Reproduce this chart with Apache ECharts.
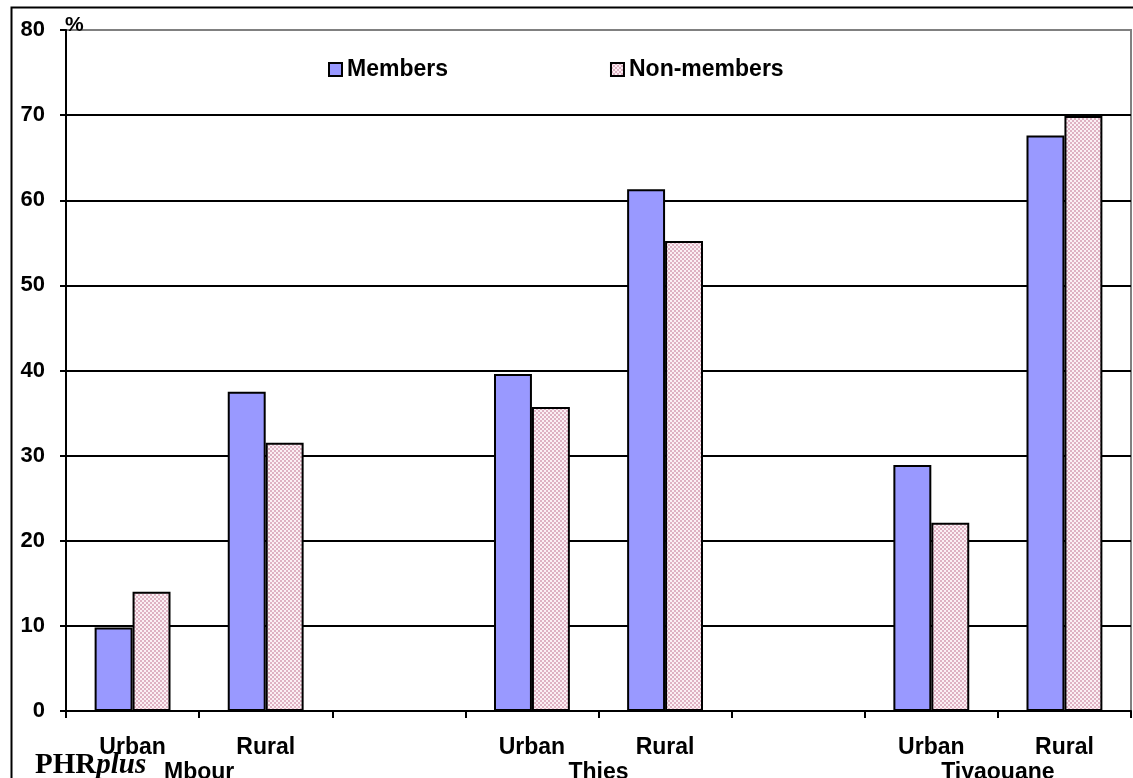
<!DOCTYPE html>
<html>
<head>
<meta charset="utf-8">
<script src="https://cdn.jsdelivr.net/npm/echarts@6/dist/echarts.min.js"></script>
<style>html,body{margin:0;padding:0;background:#fff;}#c{width:1133px;height:778px;}</style>
</head>
<body>
<div id="c"></div>
<script>
const categories = ['Urban', 'Rural', '', 'Urban', 'Rural', '', 'Urban', 'Rural'];
const groupLabels = ['', 'Mbour', '', '', 'Thies', '', '', 'Tiyaouane', ''];
const members = [9.8, 37.5, '-', 39.6, 61.3, '-', 28.9, 67.6];
const nonMembers = [14.0, 31.5, '-', 35.7, 55.2, '-', 22.1, 69.9];
const yTicks = { min: 0, max: 80, interval: 10 };

function makePattern() {
  const c = document.createElement('canvas');
  c.width = 4; c.height = 4;
  const g = c.getContext('2d');
  g.fillStyle = '#fbf0f4'; g.fillRect(0, 0, 4, 4);
  g.fillStyle = '#deb2c3';
  g.fillRect(0, 0, 2, 2); g.fillRect(2, 2, 2, 2);
  return c;
}

const chart = echarts.init(document.getElementById('c'), null, { renderer: 'canvas' });
const ff = 'Liberation Sans, Arial, sans-serif';
const boldX = { fontFamily: ff, fontWeight: 'bold', fontSize: 23, color: '#000' };
const boldY = { fontFamily: ff, fontWeight: 'bold', fontSize: 22, color: '#000' };

chart.setOption({
  animation: false,
  backgroundColor: '#fff',
  grid: { left: 66, top: 30, right: 2, bottom: 67, containLabel: false, outerBoundsMode: 'none',
    show: true, borderColor: '#808080', borderWidth: 2, backgroundColor: 'transparent' },
  legend: {
    left: 323, top: 53, itemWidth: 13, itemHeight: 13, itemGap: 162, icon: 'rect',
    textStyle: Object.assign({}, boldX),
    data: ['Members', 'Non-members']
  },
  xAxis: [{
    type: 'category', data: categories, position: 'bottom',
    axisLine: { lineStyle: { color: '#000', width: 2 } },
    axisTick: { show: true, interval: 0, length: 7, lineStyle: { color: '#000', width: 2 } },
    axisLabel: Object.assign({ interval: 0, margin: 25 }, boldX),
    splitLine: { show: false }
  }, {
    type: 'category', data: groupLabels, position: 'bottom', boundaryGap: false,
    axisLine: { show: false }, axisTick: { show: false },
    axisLabel: Object.assign({ interval: 0, margin: 50 }, boldX),
    splitLine: { show: false }
  }],
  yAxis: {
    type: 'value', min: yTicks.min, max: yTicks.max, interval: yTicks.interval,
    axisLine: { show: true, lineStyle: { color: '#000', width: 2 } },
    axisTick: { show: true, length: 6, lineStyle: { color: '#000', width: 2 } },
    axisLabel: Object.assign({ margin: 21 }, boldY),
    splitLine: { show: true, lineStyle: { color: ['#000', '#000', '#000', '#000', '#000', '#000', '#000', '#000', '#808080'], width: 2 } }
  },
  series: [{
    name: 'Members', type: 'bar', data: members, barGap: '0%', barCategoryGap: '43%',
    itemStyle: { color: '#9999ff', borderColor: '#000', borderWidth: 2 }
  }, {
    name: 'Non-members', type: 'bar', data: nonMembers, barGap: '0%', barCategoryGap: '43%',
    itemStyle: { color: { image: makePattern(), repeat: 'repeat' }, borderColor: '#000', borderWidth: 2 }
  }],
  graphic: [
    { type: 'rect', left: 9, top: 5, shape: { width: 1200, height: 900 }, style: { fill: 'none', stroke: '#000', lineWidth: 2 }, z: 100, silent: true },
    { type: 'text', left: 65, top: 15, style: { text: '%', font: 'bold 21px Liberation Sans, Arial, sans-serif', fill: '#000' }, z: 101 },
    { type: 'text', left: 35, top: 751, style: {
        text: '{a|PHR}{b|plus}',
        rich: {
          a: { fontFamily: 'Liberation Serif, Times New Roman, serif', fontWeight: 'bold', fontSize: 29, fill: '#000', color: '#000' },
          b: { fontFamily: 'Liberation Serif, Times New Roman, serif', fontWeight: 'bold', fontStyle: 'italic', fontSize: 29, fill: '#000', color: '#000' }
        }
      }, z: 101 }
  ]
});
</script>
</body>
</html>
